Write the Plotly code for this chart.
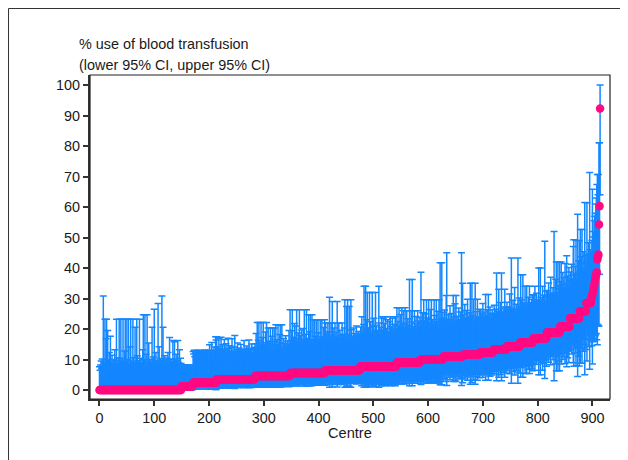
import plotly.graph_objects as go

# ---------------- data ----------------
# Centres sorted by % use; point estimates form plateaus (one level per block)
RATE_LEVELS = [0.0, 1.2, 2.4, 3.5, 4.6, 5.6, 6.5, 7.7, 9.0, 9.9, 11.0,
               11.6, 12.3, 13.2, 14.3, 15.6, 17.0, 18.9, 20.8, 23.5, 25.8, 28.5]

UPPER_BLOCKS = [
    [7.6, 6.5, 8.2, 9.5, 7.1, 10.2, 8.0, 30.8, 9.0, 7.4,
     23.2, 8.5, 16.8, 23.2, 8.6, 19.5, 9.8, 7.5, 12.3, 7.8,
     17.6, 9.2, 8.0, 11.4, 7.3, 8.5, 10.0, 7.9, 13.2, 8.4,
     9.7, 23.2, 8.2, 7.6, 10.6, 8.8, 23.2, 9.5, 7.4, 23.2,
     8.1, 10.3, 7.7, 23.2, 9.0, 8.3, 12.8, 23.2, 7.5, 9.4,
     23.2, 8.0, 10.0, 23.2, 8.7, 7.6, 14.2, 23.2, 9.5, 8.2,
     7.9, 23.2, 10.6, 8.4, 9.0, 20.6, 7.7, 8.5, 23.2, 11.2,
     8.3, 9.6, 7.5, 23.2, 8.8, 10.4, 7.9, 9.0, 8.2, 13.2,
     24.7, 8.5, 9.9, 24.7, 7.6, 11.7, 8.3, 24.7, 9.2, 7.8,
     15.4, 8.6, 10.1, 7.7, 9.5, 8.2, 20.6, 7.9, 10.8, 8.4,
     26.5, 9.1, 7.6, 12.3, 8.5, 9.7, 8.0, 28.4, 7.8, 14.2,
     8.9, 10.3, 7.7, 9.2, 30.8, 8.1, 20.6, 9.6, 7.5, 11.2,
     8.7, 9.9, 7.8, 10.5, 8.3, 12.3, 7.9, 9.4, 17.2, 8.6,
     10.0, 7.7, 9.1, 8.4, 16.2, 7.6, 10.2, 15.8, 8.8, 9.5,
     11.7, 8.2, 9.7, 16.2, 7.9, 8.9, 13.2, 7.6, 10.4, 8.7],
    [8.2, 7.8, 8.0, 7.5, 8.2, 7.1, 8.0, 7.8, 8.2, 6.6,
     7.9, 8.1, 7.4, 8.2, 7.7, 8.0, 6.9, 8.2, 7.8, 8.1, 7.6],
    [12.6, 11.8, 13.0, 10.9, 12.6, 12.2, 9.8, 13.0, 12.6, 11.4,
     12.8, 10.5, 12.6, 13.0, 11.9, 12.4, 9.6, 12.6, 12.9, 11.2,
     12.6, 13.1, 10.8, 12.3, 12.6, 11.6, 13.0, 12.6, 10.2, 12.9,
     14.8, 12.6, 11.3, 13.0, 15.6, 12.2, 12.6, 10.7, 14.1, 13.0,
     12.5, 17.5, 16.4],
    [17.5, 12.1, 14.2, 11.0, 16.9, 12.8, 13.5, 10.6, 17.3, 12.2,
     11.5, 14.8, 12.9, 10.8, 16.6, 13.1, 11.9, 15.2, 12.4, 10.9,
     13.6, 17.0, 12.0, 11.2, 14.5, 12.7, 10.7, 13.9, 16.8, 11.8,
     12.5, 10.9, 14.1, 17.9, 12.3, 11.4, 13.3, 10.8, 15.4, 12.6,
     11.1, 13.8, 12.2, 10.6, 14.9, 12.9, 11.6, 13.4, 10.9, 12.5,
     16.2, 11.3, 13.0, 12.1, 10.8, 14.4, 12.7, 11.5, 13.7, 16.4,
     12.0, 10.9, 13.2, 11.8, 15.1, 12.4, 11.0, 13.6, 12.3, 14.0],
    [15.2, 13.4, 18.5, 12.6, 22.1, 14.0, 16.3, 22.1, 13.1, 15.7,
     12.4, 22.1, 14.6, 17.2, 13.5, 22.1, 15.0, 12.9, 14.2, 19.0,
     13.8, 22.1, 15.5, 12.7, 20.3, 14.3, 16.0, 13.2, 20.3, 15.1,
     12.5, 17.6, 20.3, 14.1, 13.0, 20.3, 15.8, 12.8, 21.4, 14.5,
     16.5, 13.3, 21.4, 14.8, 12.6, 18.2, 21.4, 13.7, 15.4, 21.4,
     14.0, 12.9, 16.9, 13.6, 15.2, 12.4, 17.8, 14.4, 13.1, 16.1,
     12.8, 15.0, 19.5, 13.9],
    [26.3, 16.2, 14.8, 19.4, 26.3, 15.5, 17.3, 14.9, 21.8, 16.8,
     15.1, 21.0, 26.3, 15.8, 14.6, 18.7, 16.4, 26.3, 15.2, 17.9,
     14.7, 19.7, 16.0, 15.3, 20.2, 14.9, 26.3, 16.6, 15.4, 18.3,
     26.3, 15.0, 16.9, 14.8, 24.7, 15.7, 19.1, 24.7, 15.3, 16.3,
     24.7, 14.9, 23.0, 16.5, 15.2, 23.0, 17.6, 15.0, 23.0, 16.1,
     14.8, 23.0, 18.8, 15.6, 16.7, 23.0, 15.1, 17.4, 23.0, 15.8,
     16.4, 20.5, 15.3, 23.0],
    [17.2, 22.0, 15.9, 18.6, 16.4, 22.0, 19.1, 15.7, 30.4, 17.0,
     16.1, 22.0, 18.0, 29.0, 15.8, 17.5, 20.3, 16.6, 22.0, 15.9,
     18.9, 16.3, 29.0, 17.1, 15.8, 22.0, 16.9, 19.6, 15.6, 17.8,
     16.2, 22.0, 15.9, 18.3, 16.7, 20.3, 29.6, 17.4, 15.8, 27.4,
     16.5, 29.6, 18.1, 15.9, 27.4, 17.3, 16.4, 29.6, 19.8, 16.0,
     17.7, 15.8, 20.3, 16.9, 18.5, 15.7, 17.2, 21.0, 16.3, 18.0,
     15.9, 19.2, 16.6, 17.5],
    [18.5, 20.7, 17.6, 24.0, 19.2, 17.8, 21.5, 34.0, 18.1, 19.9,
     34.0, 17.9, 23.0, 32.0, 18.6, 20.4, 17.7, 32.0, 19.0, 22.4,
     18.2, 17.6, 32.0, 20.9, 18.8, 23.5, 17.8, 19.5, 32.0, 18.4,
     21.2, 17.7, 19.3, 18.0, 34.0, 22.0, 18.5, 17.9, 20.6, 24.0,
     18.3, 19.7, 23.5, 17.8, 21.8, 18.9, 24.0, 18.1, 20.2, 17.6,
     23.0, 19.1, 18.4, 22.5, 17.9, 24.0, 18.7, 20.8, 17.7, 23.5,
     19.4, 18.2, 21.6, 17.8, 24.0, 18.9, 20.1],
    [27.0, 20.1, 22.5, 19.3, 27.0, 21.0, 19.6, 24.8, 20.4, 27.0,
     19.2, 22.0, 26.0, 20.6, 19.5, 27.0, 21.4, 19.8, 26.0, 20.2,
     23.4, 19.4, 21.1, 36.2, 20.0, 19.3, 26.0, 22.3, 36.2, 19.9,
     20.8, 19.5, 26.0, 21.7, 19.2, 24.1, 20.3, 19.7, 26.0, 22.6,
     19.6, 20.9, 23.8],
    [22.0, 38.6, 20.6, 21.9, 25.3, 20.2, 29.6, 22.7, 20.9, 25.0,
     20.4, 29.6, 21.5, 23.6, 20.1, 29.6, 22.2, 20.8, 26.4, 21.1,
     29.6, 20.5, 23.1, 21.8, 20.3, 29.6, 24.4, 20.7, 22.5, 29.6,
     21.3, 20.2, 25.8, 22.0, 29.6, 20.6, 41.7, 23.3, 20.9, 41.7,
     22.8, 25.5],
    [23.5, 21.8, 26.2, 22.4, 21.2, 31.0, 45.0, 22.9, 21.5, 24.8,
     22.1, 21.4, 27.6, 23.2, 21.7, 25.1, 22.6, 21.3, 31.0, 23.9,
     21.6, 28.3, 22.3, 31.0, 21.9, 24.2, 22.8, 21.2, 26.9, 22.5,
     21.8, 25.6, 23.0, 45.0, 22.2, 35.0],
    [22.5, 24.8, 22.1, 28.0, 23.4, 22.3, 26.1, 22.8, 29.8, 23.6,
     22.4, 25.3, 22.2, 35.0, 23.9, 22.6, 35.0, 24.5, 22.3, 29.8,
     23.1, 22.5, 35.0, 25.7, 22.2, 23.8, 29.8, 22.7, 24.1, 22.4,
     26.5],
    [23.8, 26.3, 23.2, 24.9, 23.5, 28.4, 23.1, 25.6, 23.9, 23.3,
     31.3, 24.2, 23.4, 26.3, 23.0, 31.3, 24.6, 23.6, 27.2, 23.2,
     25.1, 23.7, 26.3, 23.4],
    [25.2, 24.4, 27.8, 24.9, 24.2, 26.5, 38.4, 24.7, 25.8, 24.3,
     33.0, 25.1, 24.5, 28.7, 24.8, 38.4, 25.4, 24.3, 26.9, 24.6,
     25.6, 33.0, 24.4, 27.3],
    [26.0, 28.8, 25.5, 27.1, 26.4, 25.7, 31.5, 26.2, 25.6, 43.3,
     26.8, 25.8, 29.4, 26.1, 25.5, 33.6, 26.5, 25.9, 28.1, 25.6,
     26.3, 43.3, 25.8, 30.2, 26.0],
    [27.4, 37.8, 26.8, 29.5, 27.1, 37.8, 26.6, 28.5, 27.9, 34.0,
     26.9, 28.2, 34.0, 27.3, 26.7, 30.4, 27.6, 34.0, 26.8, 28.5,
     27.2, 29.8, 26.9, 31.2],
    [28.6, 30.9, 28.2, 34.0, 29.1, 28.4, 31.7, 28.8, 29.6, 28.3,
     40.0, 29.0, 28.5, 40.0, 30.3, 28.7, 29.4, 34.0, 28.4, 31.1,
     28.9, 48.8, 29.2, 28.6, 32.5],
    [30.8, 32.6, 30.2, 35.1, 30.6, 31.4, 30.3, 37.0, 30.9, 31.8,
     30.4, 33.5, 30.7, 52.0, 31.2, 30.5, 36.3, 42.0, 30.8, 31.9,
     42.0, 30.6, 34.2, 42.0],
    [33.2, 35.6, 42.0, 32.8, 34.4, 38.5, 33.0, 36.9, 32.7, 41.5,
     33.5, 35.0, 44.0, 32.9, 37.4, 34.1, 40.2, 33.6],
    [36.0, 38.7, 35.4, 41.2, 36.5, 35.7, 47.1, 49.3, 37.8, 36.2,
     40.5, 49.0, 35.9, 38.3, 57.6, 36.8, 42.4, 49.0],
    [39.0, 52.6, 38.4, 43.7, 52.6, 39.5, 45.3, 38.8, 41.6, 61.5,
     39.7, 44.2],
    [42.0, 61.4, 44.6, 41.5, 48.3, 42.8, 71.3, 46.0, 41.9],
]

LOWER_BLOCKS = [
    [0.0] * 150,
    [0.1, 0.2, 0.1, 0.2, 0.1, 0.3, 0.1, 0.2, 0.1, 0.3,
     0.2, 0.1, 0.2, 0.1, 0.2, 0.1, 0.3, 0.1, 0.2, 0.1, 0.2],
    [0.5, 0.6, 0.4, 0.7, 0.5, 0.5, 0.8, 0.4, 0.5, 0.6,
     0.5, 0.7, 0.5, 0.4, 0.6, 0.5, 0.8, 0.5, 0.4, 0.6,
     0.5, 0.4, 0.7, 0.5, 0.5, 0.6, 0.4, 0.5, 0.7, 0.4,
     0.3, 0.5, 0.6, 0.4, 0.3, 0.5, 0.5, 0.7, 0.3, 0.4,
     0.5, 0.2, 0.2],
    [0.6, 1.2, 0.9, 1.5, 0.7, 1.1, 1.0, 1.6, 0.6, 1.2,
     1.4, 0.8, 1.1, 1.5, 0.7, 1.0, 1.3, 0.8, 1.2, 1.5,
     1.0, 0.6, 1.2, 1.4, 0.9, 1.1, 1.6, 1.0, 0.7, 1.3,
     1.2, 1.5, 0.9, 0.5, 1.2, 1.4, 1.0, 1.5, 0.8, 1.1,
     1.4, 1.0, 1.2, 1.6, 0.8, 1.1, 1.3, 1.0, 1.5, 1.2,
     0.7, 1.4, 1.1, 1.2, 1.5, 0.9, 1.1, 1.3, 1.0, 0.7,
     1.2, 1.5, 1.0, 1.3, 0.8, 1.2, 1.5, 1.0, 1.2, 0.9],
    [1.6, 2.0, 1.2, 2.2, 0.9, 1.9, 1.5, 0.9, 2.1, 1.5,
     2.3, 0.9, 1.8, 1.3, 2.0, 0.9, 1.7, 2.1, 1.9, 1.1,
     2.0, 0.9, 1.6, 2.2, 1.0, 1.8, 1.5, 2.1, 1.0, 1.7,
     2.3, 1.3, 1.0, 1.9, 2.1, 1.0, 1.6, 2.2, 1.0, 1.8,
     1.4, 2.0, 1.0, 1.8, 2.2, 1.2, 1.0, 1.9, 1.6, 1.0,
     1.9, 2.1, 1.4, 2.0, 1.6, 2.3, 1.3, 1.8, 2.1, 1.5,
     2.2, 1.7, 1.1, 1.9],
    [1.3, 2.6, 3.0, 2.0, 1.3, 2.8, 2.3, 3.0, 1.7, 2.5,
     2.9, 1.8, 1.3, 2.7, 3.1, 2.1, 2.6, 1.3, 2.9, 2.2,
     3.0, 2.0, 2.7, 2.9, 1.9, 3.0, 1.3, 2.5, 2.9, 2.1,
     1.3, 3.0, 2.4, 3.0, 1.4, 2.7, 2.0, 1.4, 2.9, 2.6,
     1.4, 3.0, 1.6, 2.5, 2.9, 1.6, 2.3, 3.0, 1.6, 2.6,
     3.0, 1.6, 2.0, 2.8, 2.4, 1.6, 2.9, 2.3, 1.6, 2.7,
     2.5, 1.8, 2.9, 1.6],
    [2.7, 1.8, 3.2, 2.5, 3.0, 1.8, 2.4, 3.2, 0.9, 2.8,
     3.1, 1.8, 2.6, 1.0, 3.2, 2.7, 2.1, 3.0, 1.8, 3.2,
     2.4, 3.1, 1.0, 2.8, 3.2, 1.8, 2.9, 2.2, 3.3, 2.6,
     3.1, 1.8, 3.2, 2.5, 3.0, 2.1, 0.9, 2.7, 3.2, 1.2,
     3.0, 0.9, 2.5, 3.2, 1.2, 2.8, 3.0, 0.9, 2.2, 3.1,
     2.6, 3.2, 2.1, 2.9, 2.4, 3.3, 2.8, 2.0, 3.0, 2.5,
     3.2, 2.3, 3.0, 2.7],
    [2.6, 2.2, 3.0, 1.4, 2.5, 3.0, 2.0, 0.9, 2.8, 2.3,
     0.9, 2.9, 1.6, 1.1, 2.6, 2.1, 3.0, 1.1, 2.5, 1.8,
     2.7, 3.1, 1.1, 2.1, 2.6, 1.5, 3.0, 2.4, 1.1, 2.7,
     2.0, 3.0, 2.4, 2.8, 0.9, 1.9, 2.6, 2.9, 2.2, 1.4,
     2.7, 2.3, 1.5, 3.0, 1.9, 2.5, 1.4, 2.8, 2.2, 3.1,
     1.6, 2.4, 2.7, 1.7, 2.9, 1.4, 2.6, 2.1, 3.0, 1.5,
     2.4, 2.8, 2.0, 3.0, 1.4, 2.6, 2.2],
    [2.0, 3.9, 3.0, 4.3, 2.0, 3.6, 4.2, 2.6, 3.8, 2.0,
     4.3, 3.1, 2.2, 3.7, 4.2, 2.0, 3.4, 4.1, 2.2, 3.9,
     2.8, 4.2, 3.6, 1.4, 4.0, 4.3, 2.2, 3.2, 1.4, 4.0,
     3.7, 4.2, 2.2, 3.3, 4.4, 2.7, 3.8, 4.1, 2.2, 3.1,
     4.1, 3.6, 2.8],
    [3.9, 1.8, 4.5, 4.0, 3.0, 4.7, 2.3, 3.7, 4.3, 3.0,
     4.6, 2.3, 4.1, 3.4, 4.8, 2.3, 3.8, 4.4, 2.8, 4.2,
     2.3, 4.6, 3.6, 4.0, 4.7, 2.3, 3.2, 4.5, 3.8, 2.3,
     4.2, 4.8, 2.9, 3.9, 2.3, 4.6, 1.7, 3.5, 4.4, 1.7,
     3.6, 2.9],
    [4.9, 5.6, 3.7, 5.2, 5.9, 2.8, 1.5, 5.0, 5.8, 4.2,
     5.4, 5.8, 3.4, 5.0, 5.6, 4.1, 5.1, 5.9, 2.8, 4.6,
     5.7, 3.1, 5.3, 2.8, 5.5, 4.4, 5.1, 5.9, 3.6, 5.2,
     5.6, 3.9, 5.0, 1.5, 5.4, 2.4],
    [5.8, 4.8, 6.0, 3.6, 5.5, 5.9, 4.3, 5.7, 3.2, 5.3,
     6.0, 4.6, 6.1, 1.9, 5.2, 5.8, 2.5, 5.0, 6.0, 3.2,
     5.6, 5.9, 1.9, 4.4, 6.1, 5.2, 3.2, 5.7, 5.1, 6.0,
     4.0],
    [6.2, 4.9, 6.5, 5.6, 6.3, 4.2, 6.6, 5.3, 6.1, 6.4,
     3.2, 5.9, 6.3, 4.9, 6.6, 3.2, 5.7, 6.2, 4.5, 6.5,
     5.4, 6.2, 4.9, 6.3],
    [6.8, 7.2, 5.4, 7.0, 7.3, 6.1, 3.0, 7.1, 6.5, 7.3,
     4.2, 6.9, 7.2, 5.0, 7.0, 3.0, 6.7, 7.3, 5.8, 7.1,
     6.6, 4.2, 7.2, 5.6],
    [7.6, 6.3, 7.9, 6.9, 7.4, 7.8, 5.3, 7.5, 7.9, 2.2,
     7.1, 7.8, 6.0, 7.5, 7.9, 4.9, 7.3, 7.7, 6.4, 7.9,
     7.4, 2.2, 7.8, 5.6, 7.6],
    [8.5, 4.2, 8.9, 7.4, 8.6, 4.2, 9.0, 7.9, 8.2, 5.4,
     8.8, 8.0, 5.4, 8.5, 8.9, 6.8, 8.3, 5.4, 8.8, 7.9,
     8.6, 7.1, 8.8, 6.3],
    [10.2, 8.8, 10.4, 6.5, 9.9, 10.3, 8.4, 10.1, 9.6, 10.4,
     5.0, 9.8, 10.2, 5.0, 9.1, 10.0, 9.7, 6.5, 10.3, 8.6,
     9.9, 3.8, 9.8, 10.1, 7.8],
    [11.6, 10.5, 11.9, 9.1, 11.7, 11.2, 11.9, 8.3, 11.6, 11.0,
     11.8, 9.9, 11.7, 3.0, 11.4, 11.8, 8.6, 6.3, 11.6, 11.0,
     6.3, 11.7, 9.4, 6.3],
    [13.2, 11.8, 8.5, 13.5, 12.4, 10.0, 13.4, 10.9, 13.6, 8.7,
     13.1, 12.1, 7.6, 13.5, 10.6, 12.7, 9.0, 13.0],
    [15.0, 13.3, 15.4, 11.8, 14.7, 15.2, 8.9, 7.8, 13.9, 14.8,
     12.2, 7.9, 15.1, 13.6, 4.4, 14.3, 11.1, 7.9],
    [16.9, 8.8, 17.3, 13.7, 8.8, 16.5, 12.7, 17.1, 14.9, 5.0,
     16.7, 13.3],
    [20.1, 9.5, 17.8, 20.4, 14.2, 19.6, 6.8, 16.5, 20.2],
]

# the last, steep centres, one value each
TAIL_RATE = [30.0, 30.8, 31.5, 32.2, 33.0, 34.0, 35.2, 36.2, 37.3, 37.8,
             38.6, 42.8, 43.8, 44.4, 54.3, 60.3, 92.3]
TAIL_UPPER = [45.0, 49.0, 65.8, 50.2, 52.0, 55.5, 57.0, 58.0, 61.0, 63.0,
              67.4, 70.7, 64.0, 70.7, 81.1, 81.1, 100.0]
TAIL_LOWER = [17.5, 14.5, 8.5, 15.8, 16.0, 16.4, 17.0, 17.8, 18.2, 18.5,
              16.5, 14.8, 21.5, 21.0, 21.0, 38.0, 64.0]

X_TICKS = [0, 100, 200, 300, 400, 500, 600, 700, 800, 900]
Y_TICKS = [0, 10, 20, 30, 40, 50, 60, 70, 80, 90, 100]

TITLE_1 = "% use of blood transfusion"
TITLE_2 = "(lower 95% CI, upper 95% CI)"
X_TITLE = "Centre"

# ---------------- assemble ----------------
rate, upper, lower = [], [], []
for level, ups, lows in zip(RATE_LEVELS, UPPER_BLOCKS, LOWER_BLOCKS):
    for u, l in zip(ups, lows):
        rate.append(level)
        upper.append(u)
        lower.append(l)
for r, u, l in zip(TAIL_RATE, TAIL_UPPER, TAIL_LOWER):
    rate.append(r)
    upper.append(u)
    lower.append(l)

centre = list(range(len(rate)))
err_plus = [max(0.0, u - r) for u, r in zip(upper, rate)]
err_minus = [max(0.0, r - l) for r, l in zip(rate, lower)]

BLUE = "#1487FF"
PINK = "#FF0A80"
INK = "#1a1a1a"
FONT = "Liberation Sans, Arial, Helvetica, sans-serif"

fig = go.Figure()
fig.add_trace(go.Scatter(
    x=centre, y=rate, mode="markers",
    marker=dict(color=PINK, size=8.5, line=dict(width=0)),
    error_y=dict(type="data", symmetric=False, array=err_plus,
                 arrayminus=err_minus, color=BLUE, thickness=1.5, width=3.5),
    hoverinfo="skip",
))

fig.update_layout(
    width=628, height=460,
    margin=dict(l=82, r=26, t=67, b=69),
    paper_bgcolor="white", plot_bgcolor="white",
    showlegend=False,
    font=dict(family=FONT, size=14.4, color=INK),
    hovermode=False,
)

fig.update_xaxes(
    range=[-17.3, 932.1], tickvals=X_TICKS, ticks="outside", ticklen=5,
    tickwidth=1.5, tickcolor="#333", showline=True, linecolor="#333",
    linewidth=2, showgrid=False, zeroline=False,
    tickfont=dict(family=FONT, size=14.4, color=INK),
)
fig.update_yaxes(
    range=[-2.95, 103.3], tickvals=Y_TICKS, ticks="outside", ticklen=5,
    tickwidth=1.5, tickcolor="#333", showline=True, linecolor="#333",
    linewidth=2, showgrid=False, zeroline=False,
    tickfont=dict(family=FONT, size=14.4, color=INK),
)

# plot frame (top / right) and outer frame lines
fig.add_shape(type="rect", xref="paper", yref="paper", x0=0, x1=1, y0=0, y1=1,
              line=dict(color="#222", width=1.2), layer="above")
fig.add_shape(type="line", xref="paper", yref="paper",
              x0=-0.1567, x1=1.06, y0=1.2052, y1=1.2052,
              line=dict(color="#333", width=1))
fig.add_shape(type="line", xref="paper", yref="paper",
              x0=-0.1567, x1=-0.1567, y0=1.2052, y1=-0.25,
              line=dict(color="#333", width=1))

fig.add_annotation(text=TITLE_1, xref="paper", yref="paper", x=-0.0244,
                   y=1.0972, xanchor="left", yanchor="middle", showarrow=False,
                   font=dict(family=FONT, size=14.4, color=INK))
fig.add_annotation(text=TITLE_2, xref="paper", yref="paper", x=-0.0244,
                   y=1.0309, xanchor="left", yanchor="middle", showarrow=False,
                   font=dict(family=FONT, size=14.4, color=INK))
fig.add_annotation(text=X_TITLE, xref="paper", yref="paper", x=0.5,
                   y=-0.1034, xanchor="center", yanchor="middle",
                   showarrow=False, font=dict(family=FONT, size=14.6, color=INK))

fig.write_html("out.html")
